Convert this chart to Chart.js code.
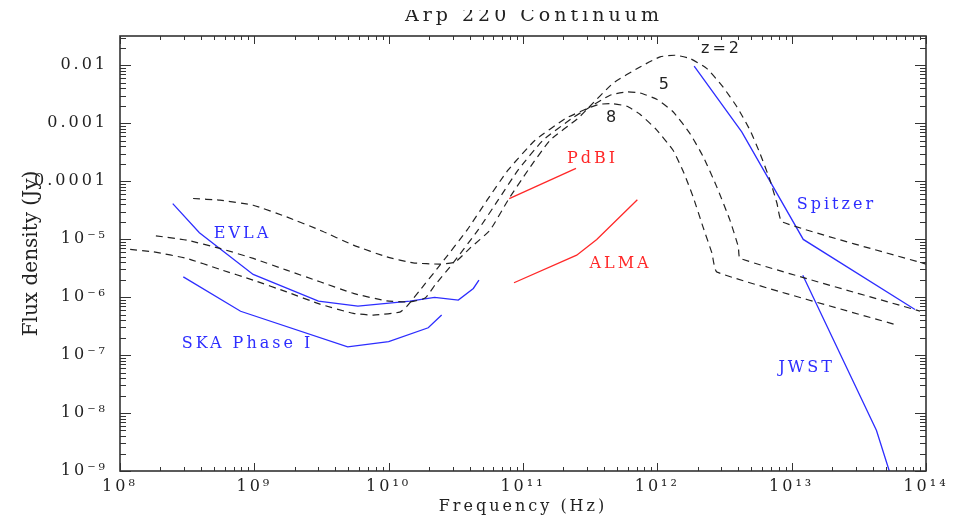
<!DOCTYPE html>
<html>
<head>
<meta charset="utf-8">
<script src="https://cdn.jsdelivr.net/npm/chart.js@4.4.1/dist/chart.umd.min.js"></script>
<style>
  html, body { margin: 0; padding: 0; background: #fff; }
  canvas { display: block; }
</style>
</head>
<body>
<canvas id="myChart" width="959" height="518"></canvas>
<script>
'use strict';

// instrument sensitivity lines (Hz, Jy)
let evlaFreq = [2.47e8, 3.9e8, 9.8e8, 3.0e9, 5.9e9, 1.44e10, 2.2e10, 3.3e10, 4.27e10, 4.7e10];
let evlaFlux = [4.1e-5, 1.29e-5, 2.46e-6, 8.5e-7, 7.0e-7, 8.5e-7, 9.9e-7, 8.9e-7, 1.41e-6, 1.96e-6];

let skaFreq = [2.96e8, 7.9e8, 4.95e9, 1.0e10, 1.97e10, 2.48e10];
let skaFlux = [2.24e-6, 5.7e-7, 1.39e-7, 1.7e-7, 2.96e-7, 4.9e-7];

let spitzerFreq = [1.88e12, 4.25e12, 1.22e13, 8.28e13];
let spitzerFlux = [9.7e-3, 7.1e-4, 9.9e-6, 6.1e-7];

let jwstFreq = [1.21e13, 4.28e13, 5.33e13];
let jwstFlux = [2.39e-6, 5.0e-9, 1.0e-9];

let pdbiFreq = [7.9e10, 2.48e11];
let pdbiFlux = [5.0e-5, 1.66e-4];

let almaFreq = [8.57e10, 2.51e11, 3.54e11, 7.1e11];
let almaFlux = [1.77e-6, 5.3e-6, 9.9e-6, 4.8e-5];

// Arp 220 SED moved to z = 2, 5, 8
let z2Freq = [3.5e8, 5.55e8, 9.8e8, 1.74e9, 3.08e9, 5.46e9, 9.66e9, 1.52e10, 2.41e10, 3.12e10, 4.03e10, 5.68e10, 7.73e10, 1.09e11, 1.59e11, 2.57e11, 3.05e11, 4.68e11, 7.43e11, 1.05e12, 1.36e12, 1.75e12, 2.34e12, 3.08e12, 3.92e12, 4.9e12, 5.81e12, 6.9e12, 7.78e12, 8.48e12, 1e14];
let z2Flux = [5.03e-5, 4.7e-5, 3.85e-5, 2.42e-5, 1.43e-5, 7.89e-6, 4.95e-6, 3.9e-6, 3.71e-6, 4.01e-6, 7.0e-6, 1.43e-5, 4.7e-5, 1.55e-4, 5.09e-4, 1.22e-3, 1.82e-3, 4.9e-3, 9.35e-3, 1.4e-2, 1.49e-2, 1.31e-2, 8.77e-3, 4.23e-3, 1.91e-3, 7.57e-4, 3.01e-4, 1.04e-4, 4.12e-5, 1.99e-5, 3.71e-6];

let z5Freq = [1.85e8, 3.14e8, 5.55e8, 9.82e8, 1.74e9, 3.08e9, 5.46e9, 9.66e9, 1.44e10, 1.87e10, 2.21e10, 3.01e10, 4.62e10, 6.52e10, 9.18e10, 1.41e11, 2.32e11, 3.05e11, 4.45e11, 5.94e11, 7.43e11, 9.89e11, 1.31e12, 1.75e12, 2.2e12, 2.77e12, 3.47e12, 4.01e12, 4.13e12, 9.02e13];
let z5Flux = [1.14e-5, 9.62e-6, 6.92e-6, 4.65e-6, 2.92e-6, 1.84e-6, 1.16e-6, 8.63e-7, 8.3e-7, 9.62e-7, 1.61e-6, 3.85e-6, 1.43e-5, 4.7e-5, 1.55e-4, 5.09e-4, 1.22e-3, 1.82e-3, 3.04e-3, 3.47e-3, 3.33e-3, 2.59e-3, 1.58e-3, 6.64e-4, 2.62e-4, 7.98e-5, 2.13e-5, 7.36e-6, 4.65e-6, 5.74e-7];

let z8Freq = [1.19e8, 1.77e8, 3.14e8, 5.55e8, 9.82e8, 1.74e9, 3.08e9, 5.46e9, 7.69e9, 1.21e10, 1.37e10, 1.71e10, 2.41e10, 3.83e10, 5.4e10, 7.73e10, 1.23e11, 2.09e11, 3.05e11, 3.74e11, 4.68e11, 5.94e11, 7.43e11, 9.77e11, 1.31e12, 1.58e12, 1.85e12, 2.19e12, 2.55e12, 2.78e12, 6.08e13];
let z8Flux = [6.64e-6, 6.04e-6, 4.65e-6, 3.01e-6, 1.96e-6, 1.23e-6, 7.57e-7, 5.24e-7, 4.9e-7, 5.51e-7, 7.0e-7, 1.32e-6, 3.56e-6, 1.43e-5, 4.7e-5, 1.55e-4, 5.09e-4, 1.22e-3, 1.82e-3, 2.13e-3, 2.17e-3, 1.96e-3, 1.43e-3, 7.89e-4, 3.42e-4, 1.37e-4, 5.3e-5, 1.61e-5, 5.74e-6, 2.7e-6, 3.29e-7];

let xTicks = [1e8, 1e9, 1e10, 1e11, 1e12, 1e13, 1e14];
let xTickLabels = ['10⁸', '10⁹', '10¹⁰', '10¹¹', '10¹²', '10¹³', '10¹⁴'];
let yTicks = [1e-9, 1e-8, 1e-7, 1e-6, 1e-5, 1e-4, 1e-3, 1e-2];
let yTickLabels = ['10⁻⁹', '10⁻⁸', '10⁻⁷', '10⁻⁶', '10⁻⁵', '0.0001', '0.001', '0.01'];

// text notes inside the plot, placed in data units
let noteText = ['EVLA', 'SKA Phase I', 'PdBI', 'ALMA', 'Spitzer', 'JWST', 'z=2', '5', '8'];
let noteFreq = [7.96e8, 8.67e8, 3.21e11, 5.19e11, 2.10e13, 1.26e13, 2.93e12, 1.12e12, 4.52e11];
let noteFlux = [1.22e-5, 1.55e-7, 2.39e-4, 3.71e-6, 3.85e-5, 5.97e-8, 1.89e-2, 4.52e-3, 1.22e-3];
let noteKind = ['blue', 'blue', 'red', 'red', 'blue', 'blue', 'model', 'model', 'model'];

let colors = { blue: 'rgb(45,45,255)', red: 'rgb(255,40,40)', model: '#222' };

function pts(xs, ys) {
  return xs.map(function (x, i) { return { x: x, y: ys[i] }; });
}

function solid(label, xs, ys, color) {
  return {
    label: label, data: pts(xs, ys), showLine: true, borderColor: color,
    borderWidth: 1.3, pointRadius: 0, tension: 0, fill: false
  };
}

function dashed(label, xs, ys) {
  return {
    label: label, data: pts(xs, ys), showLine: true, borderColor: colors.model,
    borderWidth: 1.2, borderDash: [7, 5], pointRadius: 0, tension: 0.15, fill: false
  };
}

let frame = {
  id: 'frame',
  beforeDraw(chart) {
    chart.ctx.letterSpacing = '3px';
  },
  afterDatasetsDraw(chart) {
    let ctx = chart.ctx;
    let a = chart.chartArea;
    let xs = chart.scales.x;
    let ys = chart.scales.y;
    ctx.save();
    ctx.strokeStyle = '#333';
    ctx.lineWidth = 1;
    ctx.beginPath();
    for (let e = 8; e <= 14; e++) {
      for (let m = 1; m <= 9; m++) {
        let v = m * Math.pow(10, e);
        if (v > xs.max * 1.0001) break;
        let px = Math.round(xs.getPixelForValue(v)) + 0.5;
        let len = m === 1 ? 8 : 4;
        ctx.moveTo(px, a.bottom); ctx.lineTo(px, a.bottom - len);
        ctx.moveTo(px, a.top); ctx.lineTo(px, a.top + len);
      }
    }
    for (let e = -9; e <= -2; e++) {
      for (let m = 1; m <= 9; m++) {
        let v = m * Math.pow(10, e);
        if (v > ys.max) break;
        let py = Math.round(ys.getPixelForValue(v)) + 0.5;
        let len = m === 1 ? 11 : 6;
        ctx.moveTo(a.left, py); ctx.lineTo(a.left + len, py);
        ctx.moveTo(a.right, py); ctx.lineTo(a.right - len, py);
      }
    }
    ctx.stroke();
    ctx.lineWidth = 1.6;
    ctx.strokeRect(a.left, a.top, a.right - a.left, a.bottom - a.top);
    ctx.restore();
  },
  afterDraw(chart) {
    let ctx = chart.ctx;
    let xs = chart.scales.x;
    let ys = chart.scales.y;
    ctx.save();
    ctx.textAlign = 'center';
    ctx.textBaseline = 'middle';
    ctx.letterSpacing = '3px';
    for (let i = 0; i < noteText.length; i++) {
      ctx.fillStyle = colors[noteKind[i]];
      ctx.font = noteKind[i] === 'model' ? '16px "DejaVu Sans"' : '16px "DejaVu Serif"';
      ctx.fillText(noteText[i], xs.getPixelForValue(noteFreq[i]) + 1.5, ys.getPixelForValue(noteFlux[i]));
    }
    ctx.restore();

    // title, cut off at the top like the original
    ctx.save();
    ctx.beginPath();
    ctx.rect(0, 10, chart.width, 30);
    ctx.clip();
    ctx.fillStyle = '#222';
    ctx.font = '19px "DejaVu Serif"';
    ctx.letterSpacing = '4px';
    ctx.textAlign = 'center';
    ctx.textBaseline = 'alphabetic';
    ctx.fillText('Arp 220 Continuum', 534, 20.5);
    ctx.restore();

    // y axis title
    ctx.save();
    ctx.letterSpacing = '0px';
    ctx.translate(32, (chart.chartArea.top + chart.chartArea.bottom) / 2);
    ctx.rotate(-Math.PI / 2);
    ctx.fillStyle = '#222';
    ctx.font = '20px "DejaVu Serif"';
    ctx.textAlign = 'center';
    ctx.textBaseline = 'middle';
    ctx.fillText('Flux density (Jy)', 0, 0);
    ctx.restore();

    ctx.letterSpacing = '0px';
  }
};

let ctx = document.getElementById('myChart').getContext('2d');
let myChart = new Chart(ctx, {
  type: 'scatter',
  data: {
    datasets: [
      dashed('z=2', z2Freq, z2Flux),
      dashed('z=5', z5Freq, z5Flux),
      dashed('z=8', z8Freq, z8Flux),
      solid('EVLA', evlaFreq, evlaFlux, colors.blue),
      solid('SKA Phase I', skaFreq, skaFlux, colors.blue),
      solid('Spitzer', spitzerFreq, spitzerFlux, colors.blue),
      solid('JWST', jwstFreq, jwstFlux, colors.blue),
      solid('PdBI', pdbiFreq, pdbiFlux, colors.red),
      solid('ALMA', almaFreq, almaFlux, colors.red)
    ]
  },
  options: {
    responsive: false,
    animation: false,
    layout: { padding: { left: 0, right: 33, top: 36, bottom: 0 } },
    plugins: {
      legend: { display: false },
      tooltip: { enabled: false }
    },
    scales: {
      x: {
        type: 'logarithmic',
        position: 'bottom',
        min: 1e8,
        max: 1e14,
        afterBuildTicks: function (s) { s.ticks = xTicks.map(function (v) { return { value: v }; }); },
        afterFit: function (s) { s.height = 47; },
        grid: { display: false, drawTicks: false },
        border: { display: false },
        ticks: {
          autoSkip: false,
          maxRotation: 0,
          padding: 6,
          color: '#222',
          font: { family: 'DejaVu Serif', size: 16 },
          callback: function (value, index) { return xTickLabels[index]; }
        },
        title: {
          display: true,
          text: 'Frequency (Hz)',
          color: '#222',
          font: { family: 'DejaVu Serif', size: 16 },
          padding: { top: 0, bottom: 2 }
        }
      },
      y: {
        type: 'logarithmic',
        min: 1e-9,
        max: 0.032,
        afterBuildTicks: function (s) { s.ticks = yTicks.map(function (v) { return { value: v }; }); },
        afterFit: function (s) { s.width = 120; },
        grid: { display: false, drawTicks: false },
        border: { display: false },
        ticks: {
          autoSkip: false,
          padding: 12,
          color: '#222',
          font: { family: 'DejaVu Serif', size: 16 },
          callback: function (value, index) { return yTickLabels[index]; }
        }
      }
    }
  },
  plugins: [frame]
});
</script>
</body>
</html>
